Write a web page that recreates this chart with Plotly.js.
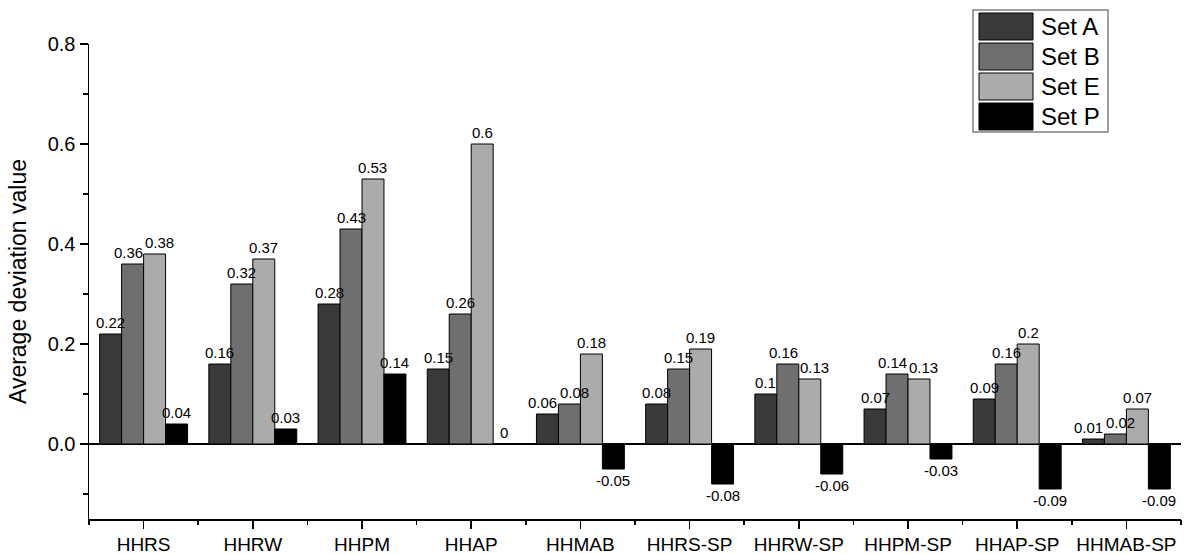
<!DOCTYPE html>
<html>
<head>
<meta charset="utf-8">
<script src="https://cdn.plot.ly/plotly-3.0.1.min.js"></script>
<style>html,body{margin:0;padding:0;background:#fff;}#chart{width:1185px;height:554px;}</style>
</head>
<body>
<div id="chart"></div>
<script>
const categories = ["HHRS","HHRW","HHPM","HHAP","HHMAB","HHRS-SP","HHRW-SP","HHPM-SP","HHAP-SP","HHMAB-SP"];
const setA = [0.22,0.16,0.28,0.15,0.06,0.08,0.1,0.07,0.09,0.01];
const setB = [0.36,0.32,0.43,0.26,0.08,0.15,0.16,0.14,0.16,0.02];
const setE = [0.38,0.37,0.53,0.6,0.18,0.19,0.13,0.13,0.2,0.07];
const setP = [0.04,0.03,0.14,0,-0.05,-0.08,-0.06,-0.03,-0.09,-0.09];
const seriesNames = ["Set A","Set B","Set E","Set P"];
const seriesColors = ["#3a3a3a","#6f6f6f","#ababab","#000000"];
const yTickVals = [0,0.2,0.4,0.6,0.8];
const yTickText = ["0.0","0.2","0.4","0.6","0.8"];

const font = "Arial, 'Liberation Sans', sans-serif";
const W = 1185, H = 554;
const M = {l:89, r:4, t:44, b:35};
const Y_RANGE = [-0.15, 0.8];
const BARGAP = 0.195;
const pw = W - M.l - M.r, ph = H - M.t - M.b;
const px2x = p => (p - M.l) / pw;
const px2y = p => (H - M.b - p) / ph;

const allSeries = [setA,setB,setE,setP];
const traces = allSeries.map((vals,i)=>({
  type:"bar",
  name:seriesNames[i],
  x:categories,
  y:vals,
  marker:{color:seriesColors[i],line:{color:"#000",width:1}},
  hoverinfo:"skip",
  showlegend:false
}));
traces.push({type:"scatter",x:[0],y:[null],xaxis:"x2",yaxis:"y",showlegend:false,hoverinfo:"skip",mode:"markers"});

// value labels: placed at each bar, nudged sideways where neighbours would collide
const LABEL_FS = 15;
const catPx = pw / categories.length;
const barPx = catPx * (1 - BARGAP) / allSeries.length;
const pxPerUnit = ph / (Y_RANGE[1] - Y_RANGE[0]);
const textW = s => s.split("").reduce((a,c)=>a + (c==="."?0.278:(c==="-"?0.333:0.556)),0) * LABEL_FS;
const annotations = [];
categories.forEach((cat,ci)=>{
  const vals = allSeries.map(s=>s[ci]);
  const txt = vals.map(v=>String(v));
  const cx = vals.map((v,i)=>(i-(allSeries.length-1)/2)*barPx);
  for (let pass=0; pass<3; pass++) {
    for (let i=0;i<vals.length-1;i++) {
      const a=vals[i], b=vals[i+1];
      if ((a>=0) !== (b>=0)) continue;
      if (Math.abs(a-b)*pxPerUnit >= LABEL_FS) continue;
      const need = (textW(txt[i])+textW(txt[i+1]))/2 + 2;
      const gap = cx[i+1]-cx[i];
      if (gap < need) { const d=(need-gap)/2; cx[i]-=d; cx[i+1]+=d; }
    }
  }
  vals.forEach((v,i)=>{
    annotations.push({
      xref:"x",yref:"y",x:cat,y:v,
      xshift:cx[i],yshift:v<0?-2:2,
      xanchor:"center",yanchor:v<0?"top":"bottom",
      showarrow:false,text:txt[i],borderpad:0,
      font:{family:font,size:LABEL_FS,color:"#000"}
    });
  });
});

// custom legend with large swatches (like the reference)
const shapes = [{
  type:"rect",xref:"paper",yref:"paper",
  x0:px2x(973),x1:px2x(1108),y0:px2y(132),y1:px2y(10),
  line:{color:"#808080",width:1.5},fillcolor:"#fff",layer:"above"
}];
seriesNames.forEach((nm,i)=>{
  const top = 13 + i*30;
  shapes.push({
    type:"rect",xref:"paper",yref:"paper",
    x0:px2x(979),x1:px2x(1033),y0:px2y(top+27),y1:px2y(top),
    line:{color:"#000",width:1},fillcolor:seriesColors[i],layer:"above"
  });
  annotations.push({
    xref:"paper",yref:"paper",x:px2x(1039),y:px2y(top+13.5),
    xanchor:"left",yanchor:"middle",showarrow:false,
    text:nm,font:{family:font,size:24,color:"#000"}
  });
});

const layout = {
  width:W,height:H,
  margin:M,
  paper_bgcolor:"#fff",plot_bgcolor:"#fff",
  font:{family:font,color:"#000"},
  barmode:"group",
  bargap:BARGAP,
  bargroupgap:0,
  showlegend:false,
  shapes:shapes,
  annotations:annotations,
  xaxis:{
    type:"category",
    range:[-0.5,9.5],
    showline:true,linecolor:"#000",linewidth:1.5,
    ticks:"outside",ticklen:8,tickwidth:1.5,tickcolor:"#000",
    tickfont:{family:font,size:19,color:"#000"},
    showgrid:false,zeroline:false,automargin:false
  },
  xaxis2:{
    type:"linear",
    overlaying:"x",anchor:"y",side:"bottom",
    range:[-0.5,9.5],tick0:-0.5,dtick:1,
    ticks:"outside",ticklen:5,tickwidth:1.5,tickcolor:"#000",
    showticklabels:false,showline:false,showgrid:false,zeroline:false
  },
  yaxis:{
    range:Y_RANGE,
    tickvals:yTickVals,ticktext:yTickText,
    showline:true,linecolor:"#000",linewidth:1.5,
    ticks:"outside",ticklen:8,tickwidth:1.5,tickcolor:"#000",
    minor:{tickvals:[-0.1,0.1,0.3,0.5,0.7],ticks:"outside",ticklen:5,tickwidth:1.5,tickcolor:"#000",showgrid:false},
    tickfont:{family:font,size:20,color:"#000"},
    showgrid:false,automargin:false,
    zeroline:true,zerolinecolor:"#000",zerolinewidth:1.5,
    title:{text:"Average deviation value",font:{family:font,size:23,color:"#000"},standoff:14}
  }
};

Plotly.newPlot("chart",traces,layout,{displayModeBar:false,staticPlot:true});
</script>
</body>
</html>
